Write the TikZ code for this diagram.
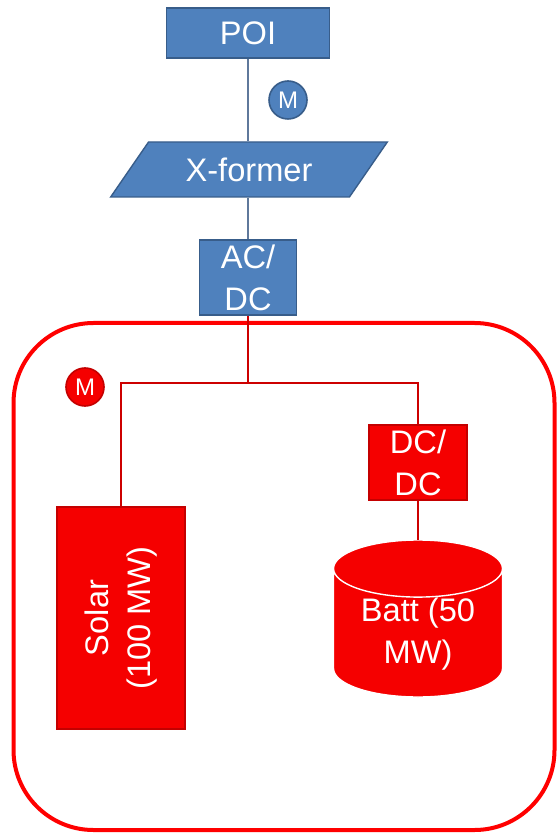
\documentclass[tikz,border=0pt]{standalone}
\usepackage{fontspec}
\setmainfont{Liberation Sans}
\usepackage{xcolor}
\usetikzlibrary{positioning, shapes.geometric, calc}

\definecolor{poiblue}{RGB}{79,129,189}
\definecolor{poiedge}{RGB}{56,93,138}
\definecolor{wireblue}{RGB}{95,120,155}
\definecolor{plantred}{RGB}{245,0,0}
\definecolor{wirered}{RGB}{205,0,0}

\begin{document}
\begin{tikzpicture}[x=0.5pt, y=-0.5pt,
  box/.style={draw, line width=0.7pt, inner sep=0pt, align=center, text=white,
              font=\fontsize{16.3}{21}\selectfont},
  gridbox/.style={box, fill=poiblue, draw=poiedge},
  plantbox/.style={box, fill=plantred, draw=plantred!80!black},
  meter/.style={circle, inner sep=0pt, minimum size=19pt, text=white,
                line width=0.8pt, font=\fontsize{12}{12}\selectfont},
  bwire/.style={draw=wireblue, line width=1.1pt},
  rwire/.style={draw=wirered, line width=1.1pt},
]
\useasboundingbox (0,0) rectangle (557,833);

% grid side
\node[gridbox, minimum width=81.5pt, minimum height=25pt] (poi) at (248,33) {POI};
\node[gridbox, trapezium, trapezium left angle=45, trapezium right angle=135,
      trapezium stretches=true, minimum width=139pt, minimum height=27.5pt]
      (xf) at (249,169.5) {X-former};
\node[gridbox, minimum width=48.5pt, minimum height=37.5pt] (acdc) at (248,277.5) {AC/\\DC};
\node[meter, fill=poiblue, draw=poiedge] (m1) at (288,100) {M};

\draw[bwire] (poi) -- (poi |- xf.north);
\draw[bwire] (acdc |- xf.south) -- (acdc);

% plant boundary
\node[draw=red, line width=2pt, rounded corners=40pt, minimum width=270.5pt,
      minimum height=253.5pt] (plant) at (284,576.5) {};

% plant side
\coordinate (bus) at (248,383);
\node[meter, fill=plantred, draw=plantred!80!black] (m2) at (85,387) {M};
\node[plantbox, minimum width=49pt, minimum height=37.5pt] (dcdc) at (418,462.5) {DC/\\DC};
\node[plantbox, minimum width=64pt, minimum height=111pt] (solar) at (121,618)
     {\rotatebox{90}{\begin{tabular}{@{}c@{}}Solar\\(100 MW)\end{tabular}}};
\node[box, cylinder, shape border rotate=90, aspect=0.5, fill=plantred, draw=white,
      outer sep=0pt, minimum width=84.5pt, minimum height=78.5pt, anchor=north]
      (batt) at (418,540)
      {\smash{\raisebox{-5pt}{\begin{tabular}{@{}c@{}}Batt (50\\MW)\end{tabular}}}};

\draw[rwire] (acdc) -- (bus);
\draw[rwire] (solar.north) |- (bus) -| (dcdc.north);
\draw[rwire] (dcdc.south) -- (batt.north);

\end{tikzpicture}
\end{document}
